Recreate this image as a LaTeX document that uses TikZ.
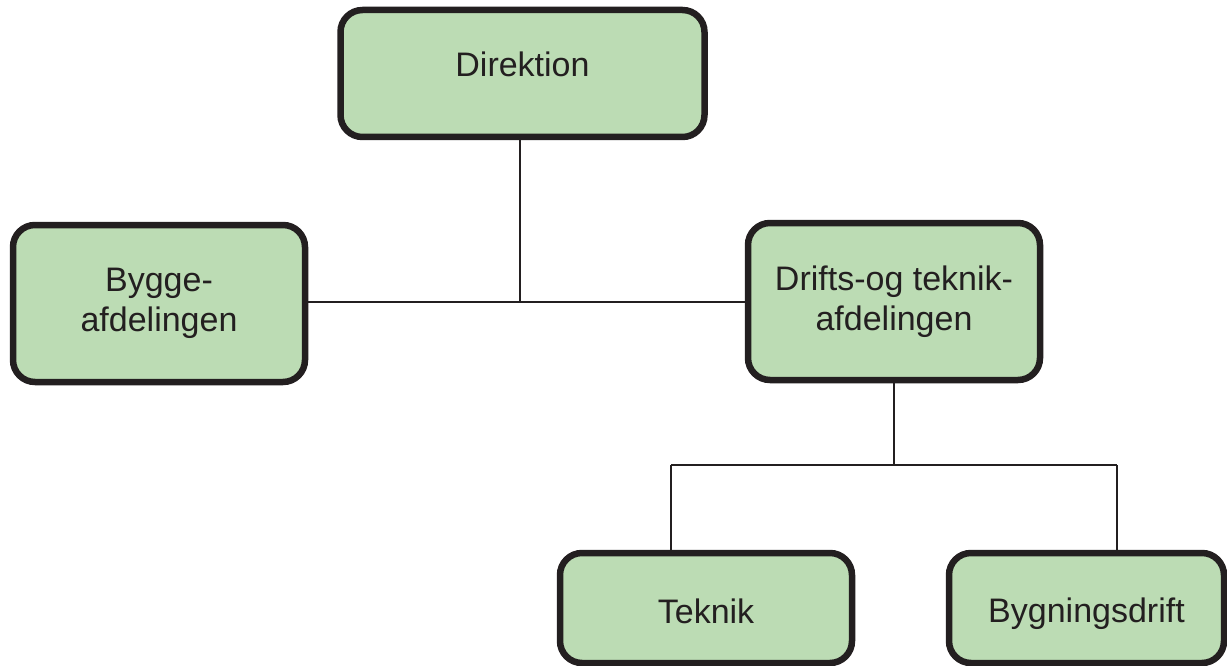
\documentclass[tikz,border=0pt]{standalone}
\usepackage{fontspec}
\setmainfont{Liberation Sans}
\definecolor{boxfill}{RGB}{188,220,180}
\definecolor{ink}{RGB}{35,31,32}
\begin{document}
\begin{tikzpicture}[x=1pt,y=-1pt,
  orgbox/.style={draw=ink, fill=boxfill, line width=6.5pt, rounded corners=22pt,
    text=ink, font=\fontsize{34}{40}\selectfont, align=center, inner sep=0pt},
  link/.style={draw=ink, line width=2pt}]
\useasboundingbox (0,0) rectangle (1227,666);
\node[orgbox, minimum width=364pt, minimum height=127pt, text height=25pt, text depth=18pt] (dir) at (522.5,73.5) {Direktion};
\node[orgbox, minimum width=292pt, minimum height=157pt] (bygge) at (159,303.5) {Bygge-\\afdelingen};
\node[orgbox, minimum width=292pt, minimum height=157pt] (drifts) at (894,301.5) {Drifts-og teknik-\\afdelingen};
\node[orgbox, minimum width=292pt, minimum height=110pt, text height=35pt, text depth=5pt] (teknik) at (706,608) {Teknik};
\node[orgbox, minimum width=275pt, minimum height=110pt, text height=35pt, text depth=7pt] (bygn) at (1086.5,608) {Bygningsdrift};
\coordinate (j1) at (520,302);
\coordinate (j2) at (894,465);
\coordinate (tk) at (671,465);
\coordinate (bd) at (1117,465);
\draw[link] (dir.south -| j1) -- (j1);
\draw[link] (bygge.east |- j1) -- (drifts.west |- j1);
\draw[link] (drifts.south) -- (j2);
\draw[link] (tk) -- (bd);
\draw[link] (tk) -- (teknik.north -| tk);
\draw[link] (bd) -- (bygn.north -| bd);
\end{tikzpicture}
\end{document}
